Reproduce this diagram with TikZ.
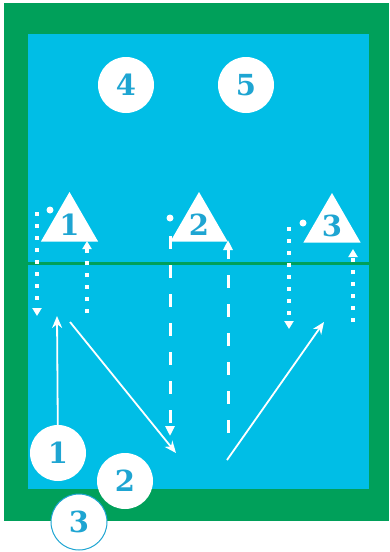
\documentclass[tikz,border=0pt]{standalone}
\usepackage{fontspec}
\newfontfamily\numfont{DejaVu Serif}
\usetikzlibrary{arrows.meta,shapes.geometric}
\definecolor{courtgreen}{RGB}{0,160,90}
\definecolor{poolblue}{RGB}{0,190,230}
\definecolor{numblue}{RGB}{30,165,210}

\begin{document}
\begin{tikzpicture}[x=1pt,y=-1pt,>=Stealth,
  every node/.style={font=\numfont\bfseries\fontsize{29}{29}\selectfont,text=numblue},
  player/.style={circle,fill=white,minimum size=56pt,inner sep=0pt},
  cone/.style={regular polygon,regular polygon sides=3,fill=white,minimum size=66pt,inner sep=0pt},
  ball/.style={circle,fill=white,minimum size=7pt,inner sep=0pt},
  run/.style={white,line width=3.5pt,dash pattern=on 4pt off 8pt,-{Triangle[length=8pt,width=9pt]}},
  sprint/.style={white,line width=3pt,dash pattern=on 13pt off 16pt,-{Triangle[length=10pt,width=9pt]}},
  pass/.style={white,line width=1.8pt,-{Stealth[length=12pt,width=10pt]}}]
\useasboundingbox (0,0) rectangle (389,552);
% court
\fill[courtgreen] (4,3) rectangle (389,521);
\fill[poolblue] (28,34) rectangle (369,489);
\draw[courtgreen,line width=3pt] (28,263) -- (369,263);

% cones and balls
\node[cone] (cone1) at (69.5,225) {1};
\node[cone] (cone2) at (199,225) {2};
\node[cone] (cone3) at (332,226) {3};
\node[ball] (ball1) at (50,210) {};
\node[ball] (ball2) at (170,218) {};
\node[ball] (ball3) at (303,223) {};

% players
\node[player] (pl4) at (126,85) {4};
\node[player] (pl5) at (246,85) {5};
\node[player] (pl1) at (58,453) {1};
\node[player] (pl2) at (125,481) {2};
\node[player,draw=numblue,line width=1pt] (pl3) at (79,522) {3};

% runs
\coordinate (run1a) at (37,212);  \coordinate (run1b) at (37,316);
\coordinate (run2a) at (87,313);  \coordinate (run2b) at (87,241);
\coordinate (run3a) at (170,236); \coordinate (run3b) at (170,436);
\coordinate (run4a) at (228,433); \coordinate (run4b) at (228,240);
\coordinate (run5a) at (289,227); \coordinate (run5b) at (289,329);
\coordinate (run6a) at (353,322); \coordinate (run6b) at (353,249);
\draw[run] (run1a) -- (run1b);
\draw[run] (run2a) -- (run2b);
\draw[sprint] (run3a) -- (run3b);
\draw[sprint] (run4a) -- (run4b);
\draw[run] (run5a) -- (run5b);
\draw[run] (run6a) -- (run6b);

% passes
\coordinate (recv1) at (57,316);
\coordinate (from1) at (70,322);
\coordinate (recv2) at (176,453);
\coordinate (from2) at (227,460);
\coordinate (recv3) at (324,322);
\draw[pass] (pl1) -- (recv1);
\draw[pass] (from1) -- (recv2);
\draw[pass] (from2) -- (recv3);
\end{tikzpicture}
\end{document}
